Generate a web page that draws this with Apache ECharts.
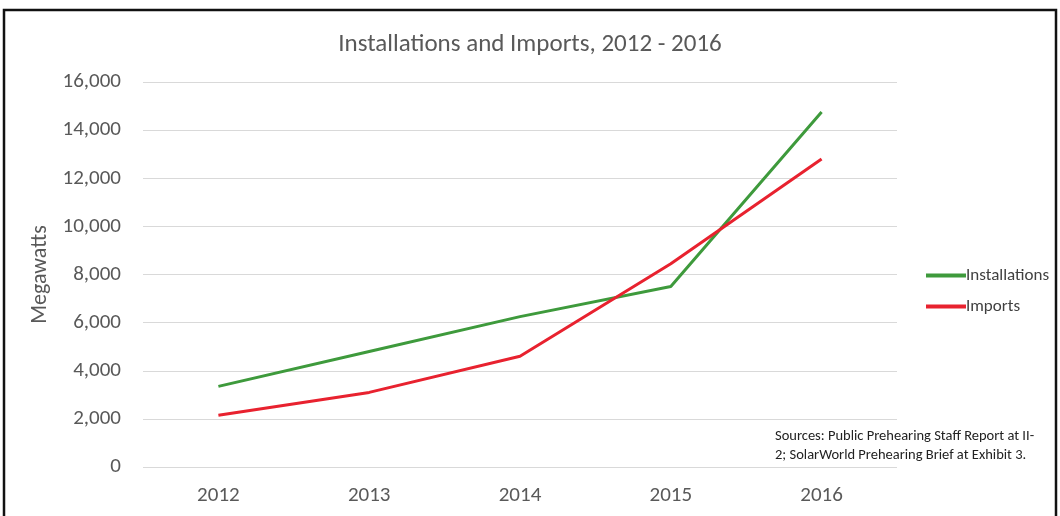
<!DOCTYPE html>
<html>
<head>
<meta charset="utf-8">
<script src="https://cdn.jsdelivr.net/npm/echarts@6/dist/echarts.min.js"></script>
<style>
  html, body { margin: 0; padding: 0; background: #fff; }
  #chart { width: 1060px; height: 516px; }
</style>
</head>
<body>
<div id="chart"></div>
<script>
const years = ['2012', '2013', '2014', '2015', '2016']
const installations = [3350, 4800, 6250, 7500, 14750]
const imports = [2150, 3100, 4600, 8450, 12800]
const yTicks = [0, 2000, 4000, 6000, 8000, 10000, 12000, 14000, 16000]

const chart = echarts.init(document.getElementById('chart'))
const font = 'Carlito, Lato, "Open Sans", sans-serif'
chart.setOption({
  animation: false,
  textStyle: { fontFamily: font },
  title: {
    text: 'Installations and Imports, 2012 - 2016',
    left: 'center',
    top: 27,
    textStyle: { fontFamily: font, fontSize: 25, fontWeight: 'normal', color: '#595959' }
  },
  graphic: [
    {
      type: 'rect',
      shape: { x: 4, y: 10, width: 1052, height: 520 },
      style: { fill: 'none', stroke: '#111', lineWidth: 2.5 }
    },
    {
      type: 'text',
      left: 775,
      top: 427,
      style: {
        text: 'Sources: Public Prehearing Staff Report at II-\n2; SolarWorld Prehearing Brief at Exhibit 3.',
        font: '14.5px ' + font,
        fill: '#222',
        lineHeight: 19
      }
    }
  ],
  legend: {
    orient: 'vertical',
    left: 921,
    top: 262,
    itemWidth: 40,
    itemHeight: 4,
    itemGap: 14,
    icon: 'rect',
    textStyle: { fontFamily: font, fontSize: 17, color: '#404040', padding: [0, 0, 0, -5] },
    data: ['Installations', 'Imports']
  },
  grid: { left: 143, right: 163, top: 82, bottom: 49 },
  xAxis: {
    type: 'category',
    data: years,
    boundaryGap: true,
    axisLine: { show: false },
    axisTick: { show: false },
    axisLabel: { fontSize: 21, color: '#595959', margin: 18 }
  },
  yAxis: {
    type: 'value',
    min: yTicks[0],
    max: yTicks[yTicks.length - 1],
    interval: 2000,
    name: 'Megawatts',
    nameLocation: 'middle',
    nameGap: 84,
    nameTextStyle: { fontSize: 22, color: '#595959' },
    axisLine: { show: false },
    axisTick: { show: false },
    axisLabel: {
      fontSize: 21,
      color: '#595959',
      margin: 22,
      formatter: v => v.toLocaleString('en-US')
    },
    splitLine: { lineStyle: { color: '#d9d9d9', width: 1 } }
  },
  series: [
    {
      name: 'Installations',
      type: 'line',
      data: installations,
      symbol: 'none',
      lineStyle: { color: '#3e9a3c', width: 3 },
      itemStyle: { color: '#3e9a3c' }
    },
    {
      name: 'Imports',
      type: 'line',
      data: imports,
      symbol: 'none',
      lineStyle: { color: '#e8222f', width: 3 },
      itemStyle: { color: '#e8222f' }
    }
  ]
})
</script>
</body>
</html>
